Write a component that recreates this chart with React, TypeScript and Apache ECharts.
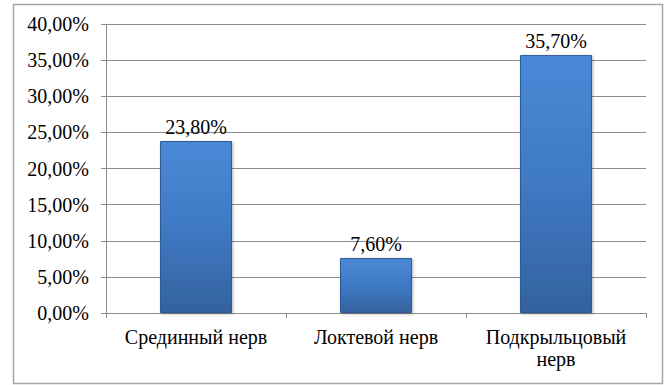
import React, { useEffect, useRef } from "react";
import * as echarts from "echarts";

const categories = ["Срединный нерв", "Локтевой нерв", "Подкрыльцовый\nнерв"];
const values = [23.8, 7.6, 35.7];
const yMin = 0;
const yMax = 40;
const yStep = 5;

const fmt = (v: number) => v.toFixed(2).replace(".", ",") + "%";

export default function App() {
  const ref = useRef<HTMLDivElement>(null);
  useEffect(() => {
    if (!ref.current) return;
    const chart = echarts.init(ref.current, null, { renderer: "svg" });
    const font = "Liberation Serif";
    chart.setOption({
      animation: false,
      backgroundColor: "#ffffff",
      textStyle: { fontFamily: font },
      graphic: [
        {
          type: "rect",
          shape: { x: 13.5, y: 4.5, width: 649, height: 379 },
          style: { fill: "none", stroke: "#a6a6a6", lineWidth: 1.5 },
          silent: true,
        },
      ],
      grid: { left: 106, right: 21, top: 24, bottom: 72, containLabel: false },
      xAxis: {
        type: "category",
        data: categories,
        boundaryGap: true,
        axisLine: { show: true, lineStyle: { color: "#8c8c8c", width: 1 } },
        axisTick: { show: true, alignWithLabel: false, length: 5, lineStyle: { color: "#8c8c8c" } },
        axisLabel: {
          color: "#000",
          fontFamily: font,
          fontSize: 20,
          margin: 13,
          lineHeight: 22,
          interval: 0,
        },
      },
      yAxis: {
        type: "value",
        min: yMin,
        max: yMax,
        interval: yStep,
        axisLine: { show: true, lineStyle: { color: "#8c8c8c", width: 1 } },
        axisTick: { show: true, length: 5, lineStyle: { color: "#8c8c8c" } },
        splitLine: { show: true, lineStyle: { color: "#8c8c8c", width: 1 } },
        axisLabel: {
          color: "#000",
          fontFamily: font,
          fontSize: 20,
          margin: 17,
          formatter: (v: number) => fmt(v),
        },
      },
      series: [
        {
          type: "bar",
          data: values,
          barWidth: "40%",
          itemStyle: {
            color: new echarts.graphic.LinearGradient(0, 0, 0, 1, [
              { offset: 0, color: "#4b89d6" },
              { offset: 0.5, color: "#3f79c4" },
              { offset: 1, color: "#33629f" },
            ]),
            borderColor: "#2f5a95",
            borderWidth: 1,
            shadowColor: "rgba(0,0,0,0.3)",
            shadowBlur: 3,
            shadowOffsetX: 1,
            shadowOffsetY: 1,
          },
          label: {
            show: true,
            position: "top",
            distance: 4,
            color: "#000",
            fontFamily: font,
            fontSize: 20,
            formatter: (p: any) => fmt(p.value),
          },
        },
      ],
    });
    return () => chart.dispose();
  }, []);
  return (
    <div
      ref={ref}
      style={{ position: "fixed", left: 0, top: 0, width: 667, height: 385 }}
    />
  );
}
